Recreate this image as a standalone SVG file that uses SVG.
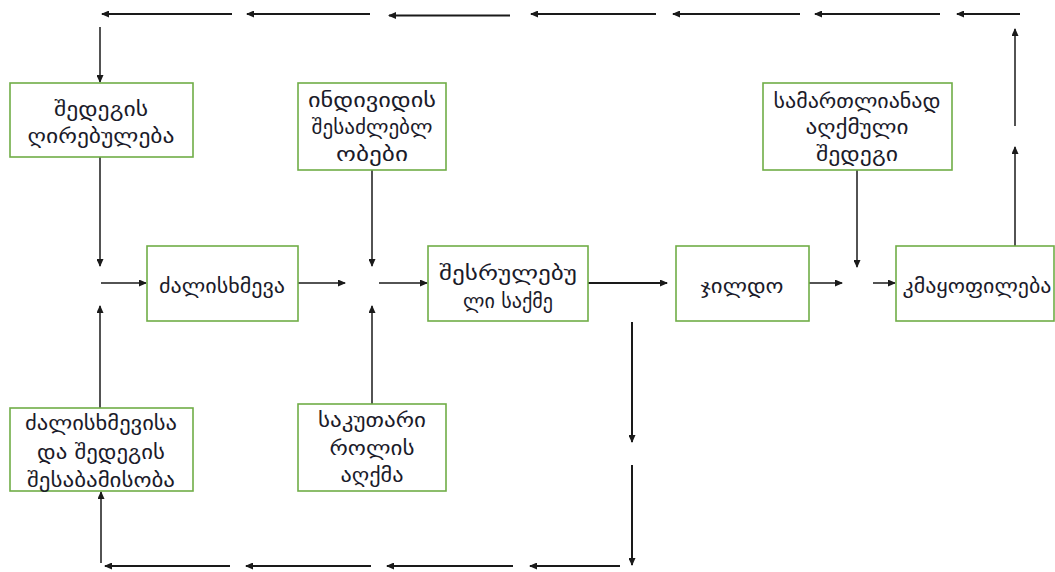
<svg xmlns="http://www.w3.org/2000/svg" width="1055" height="572" viewBox="0 0 1055 572">
  <style>
    .box { fill: #ffffff; stroke: #70ad47; stroke-width: 1.6; }
    .t { font-family: "DejaVu Sans", "Noto Sans", sans-serif; font-size: 20px; fill: #1b1b2a; text-anchor: middle; }
    .c { stroke: #1a1a1a; stroke-width: 1.5; fill: none; }
    .ct { stroke: #1a1a1a; stroke-width: 2; fill: none; }
  </style>
  <defs>
    <marker id="ah" markerUnits="userSpaceOnUse" markerWidth="8" markerHeight="7" refX="7" refY="3.5" orient="auto">
      <path d="M0,0 L8,3.5 L0,7 z" fill="#1a1a1a"/>
    </marker>
  </defs>
  <rect width="1055" height="572" fill="#ffffff"/>

  <g id="connectors">
    <!-- top feedback row -->
    <line class="ct" x1="232" y1="14" x2="102" y2="14" marker-end="url(#ah)"/>
    <line class="ct" x1="370" y1="14" x2="247" y2="14" marker-end="url(#ah)"/>
    <line class="ct" x1="510" y1="15.5" x2="389" y2="15.5" marker-end="url(#ah)"/>
    <line class="ct" x1="656" y1="14" x2="531" y2="14" marker-end="url(#ah)"/>
    <line class="ct" x1="800" y1="14" x2="673" y2="14" marker-end="url(#ah)"/>
    <line class="ct" x1="940" y1="14" x2="815" y2="14" marker-end="url(#ah)"/>
    <line class="ct" x1="1020" y1="14" x2="957" y2="14" marker-end="url(#ah)"/>
    <line class="c" x1="100" y1="27" x2="100" y2="82" marker-end="url(#ah)"/>
    <line class="c" x1="1015" y1="126" x2="1015" y2="29" marker-end="url(#ah)"/>
    <line class="c" x1="1015" y1="246" x2="1015" y2="147" marker-end="url(#ah)"/>

    <!-- left junction -->
    <line class="c" x1="100" y1="157" x2="100" y2="266" marker-end="url(#ah)"/>
    <line class="c" x1="100" y1="408" x2="100" y2="306" marker-end="url(#ah)"/>
    <line class="c" x1="101" y1="283" x2="146" y2="283" marker-end="url(#ah)"/>
    <line class="c" x1="298" y1="283" x2="345" y2="283" marker-end="url(#ah)"/>

    <!-- middle junction -->
    <line class="c" x1="372" y1="170" x2="372" y2="266" marker-end="url(#ah)"/>
    <line class="c" x1="372" y1="404" x2="372" y2="306" marker-end="url(#ah)"/>
    <line class="c" x1="379" y1="283" x2="427" y2="283" marker-end="url(#ah)"/>

    <!-- right side -->
    <line class="ct" x1="588" y1="283" x2="667" y2="283" marker-end="url(#ah)"/>
    <line class="c" x1="809" y1="283" x2="842" y2="283" marker-end="url(#ah)"/>
    <line class="c" x1="857" y1="170" x2="857" y2="267" marker-end="url(#ah)"/>
    <line class="c" x1="873" y1="283" x2="895" y2="283" marker-end="url(#ah)"/>

    <!-- bottom feedback -->
    <line class="ct" x1="632" y1="322" x2="632" y2="442" marker-end="url(#ah)"/>
    <line class="ct" x1="632" y1="465" x2="632" y2="565" marker-end="url(#ah)"/>
    <line class="ct" x1="620" y1="566" x2="530" y2="566" marker-end="url(#ah)"/>
    <line class="ct" x1="513" y1="566" x2="387" y2="566" marker-end="url(#ah)"/>
    <line class="ct" x1="371" y1="566" x2="246" y2="566" marker-end="url(#ah)"/>
    <line class="ct" x1="230" y1="566" x2="105" y2="566" marker-end="url(#ah)"/>
    <line class="c" x1="101" y1="563" x2="101" y2="492" marker-end="url(#ah)"/>
  </g>

  <g id="n-result-value">
    <rect class="box" x="10" y="83" width="183" height="74"/>
    <text class="t" x="101" y="116" textLength="94" lengthAdjust="spacingAndGlyphs">შედეგის</text>
    <text class="t" x="101" y="143" textLength="147" lengthAdjust="spacingAndGlyphs">ღირებულება</text>
  </g>
  <g id="n-abilities">
    <rect class="box" x="298" y="83" width="148" height="87"/>
    <text class="t" x="372" y="107" textLength="128" lengthAdjust="spacingAndGlyphs">ინდივიდის</text>
    <text class="t" x="372" y="134" textLength="121" lengthAdjust="spacingAndGlyphs">შესაძლებლ</text>
    <text class="t" x="372" y="161" textLength="72" lengthAdjust="spacingAndGlyphs">ობები</text>
  </g>
  <g id="n-fair-result">
    <rect class="box" x="763" y="83" width="189" height="87"/>
    <text class="t" x="857" y="108" textLength="167" lengthAdjust="spacingAndGlyphs">სამართლიანად</text>
    <text class="t" x="857" y="134" textLength="103" lengthAdjust="spacingAndGlyphs">აღქმული</text>
    <text class="t" x="857" y="161" textLength="82" lengthAdjust="spacingAndGlyphs">შედეგი</text>
  </g>
  <g id="n-effort">
    <rect class="box" x="147" y="246" width="151" height="75"/>
    <text class="t" x="222" y="293" textLength="126" lengthAdjust="spacingAndGlyphs">ძალისხმევა</text>
  </g>
  <g id="n-performance">
    <rect class="box" x="428" y="246" width="160" height="75"/>
    <text class="t" x="508" y="280" textLength="138" lengthAdjust="spacingAndGlyphs">შესრულებუ</text>
    <text class="t" x="508" y="308" textLength="90" lengthAdjust="spacingAndGlyphs">ლი საქმე</text>
  </g>
  <g id="n-reward">
    <rect class="box" x="676" y="246" width="133" height="75"/>
    <text class="t" x="742" y="293" textLength="83" lengthAdjust="spacingAndGlyphs">ჯილდო</text>
  </g>
  <g id="n-satisfaction">
    <rect class="box" x="896" y="246" width="158" height="75"/>
    <text class="t" x="977" y="293" textLength="149" lengthAdjust="spacingAndGlyphs">კმაყოფილება</text>
  </g>
  <g id="n-correspondence">
    <rect class="box" x="10" y="408" width="183" height="83"/>
    <text class="t" x="101" y="430" textLength="152" lengthAdjust="spacingAndGlyphs">ძალისხმევისა</text>
    <text class="t" x="101" y="459" textLength="128" lengthAdjust="spacingAndGlyphs">და შედეგის</text>
    <text class="t" x="101" y="487" textLength="148" lengthAdjust="spacingAndGlyphs">შესაბამისობა</text>
  </g>
  <g id="n-role">
    <rect class="box" x="298" y="404" width="148" height="87"/>
    <text class="t" x="372" y="427" textLength="108" lengthAdjust="spacingAndGlyphs">საკუთარი</text>
    <text class="t" x="372" y="455" textLength="85" lengthAdjust="spacingAndGlyphs">როლის</text>
    <text class="t" x="372" y="482" textLength="63" lengthAdjust="spacingAndGlyphs">აღქმა</text>
  </g>
</svg>
